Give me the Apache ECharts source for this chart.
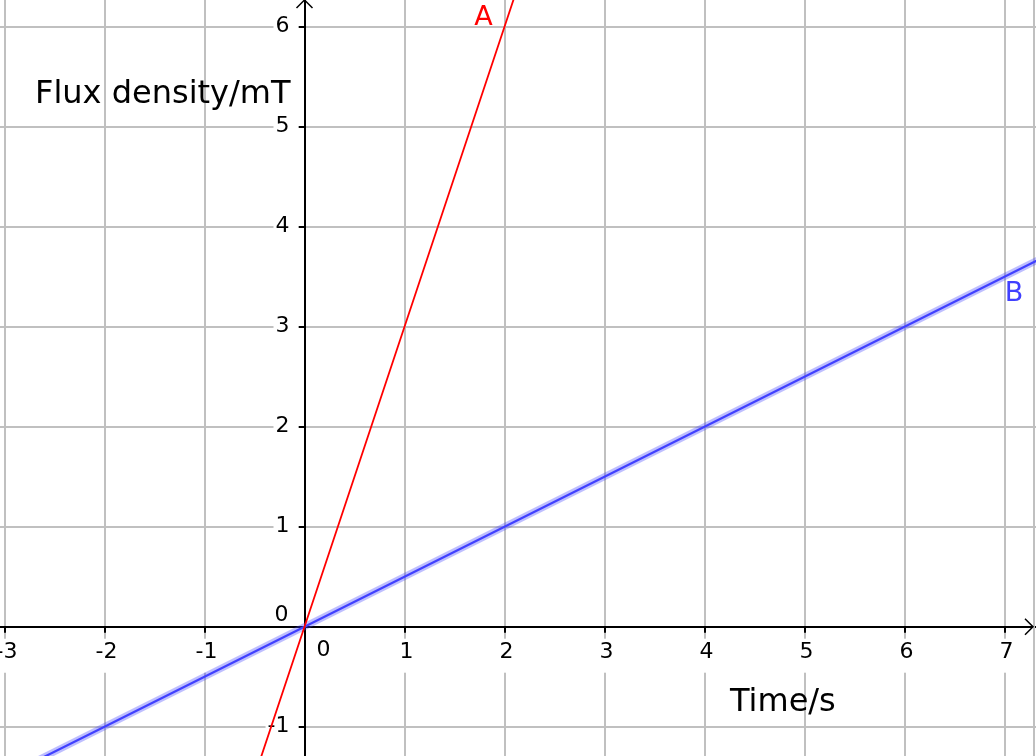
<!DOCTYPE html>
<html>
<head>
<meta charset="utf-8">
<script src="https://cdn.jsdelivr.net/npm/echarts@6/dist/echarts.min.js"></script>
<style>
html,body{margin:0;padding:0;background:#fff;}
#c{width:1036px;height:756px;}
</style>
</head>
<body>
<div id="c"></div>
<script>
// ---- data ----
const lineA_x = [-0.5, 0, 1, 2, 2.2];
const lineA_y = [-1.5, 0, 3, 6, 6.6];
const lineB_x = [-3, -2, -1, 0, 1, 2, 3, 4, 5, 6, 7, 7.5];
const lineB_y = [-1.5, -1, -0.5, 0, 0.5, 1, 1.5, 2, 2.5, 3, 3.5, 3.75];
const seriesNames = ['A', 'B'];
const xTitle = 'Time/s';
const yTitle = 'Flux density/mT';
const xAxisRange = [-4, 8];
const yAxisRange = [-2, 7];
const tickStep = 1;

const FONT = '"DejaVu Sans", "Liberation Sans", sans-serif';
const toPairs = (xs, ys) => xs.map((x, i) => [x, ys[i]]);

const chart = echarts.init(document.getElementById('c'), null, {renderer: 'canvas'});

// grid extends past the canvas so that the visible window is x∈[-3.05,7.3], y∈[-1.3,6.27]
const G = {left: -95.5, right: -68.5, top: -73.3, bottom: -70.7};

const option = {
  animation: false,
  backgroundColor: '#ffffff',
  grid: Object.assign({containLabel: false, outerBoundsMode: 'none'}, G),
  xAxis: {
    type: 'value', min: xAxisRange[0], max: xAxisRange[1], interval: tickStep,
    position: 'bottom', offset: -200,
    axisLine: {onZero: false, lineStyle: {color: '#000', width: 2}},
    axisTick: {show: true, inside: false, length: 6, lineStyle: {color: '#000', width: 2}},
    axisLabel: {
      margin: 18, showMinLabel: true, showMaxLabel: true,
      formatter: v => v === 0 ? '' : '{t|' + v + '}',
      rich: {t: {fontFamily: FONT, fontSize: 22, lineHeight: 22, color: '#000',
                 backgroundColor: '#fff', padding: [3, 3, 9, 7]}}
    },
    splitLine: {show: true, lineStyle: {color: '#c0c0c0', width: 2}}
  },
  yAxis: {
    type: 'value', min: yAxisRange[0], max: yAxisRange[1], interval: tickStep,
    position: 'left', offset: -400,
    axisLine: {onZero: false, lineStyle: {color: '#000', width: 2}},
    axisTick: {show: true, inside: false, length: 6, lineStyle: {color: '#000', width: 2}},
    axisLabel: {
      margin: 6, showMinLabel: true, showMaxLabel: true,
      formatter: v => v === 0 ? '' : '{t|' + v + '}',
      rich: {t: {fontFamily: FONT, fontSize: 22, lineHeight: 22, color: '#000',
                 backgroundColor: '#fff', padding: [3, 9, 3, 2]}}
    },
    splitLine: {show: true, lineStyle: {color: '#c0c0c0', width: 2}}
  },
  series: [
    {
      name: seriesNames[1] + '-glow', type: 'line', data: toPairs(lineB_x, lineB_y),
      showSymbol: false, clip: true, silent: true,
      lineStyle: {color: 'rgba(70,70,255,0.35)', width: 7}
    },
    {
      name: seriesNames[1], type: 'line', data: toPairs(lineB_x, lineB_y),
      showSymbol: false, clip: true,
      lineStyle: {color: '#4040ff', width: 2.2}
    },
    {
      name: seriesNames[0], type: 'line', data: toPairs(lineA_x, lineA_y),
      showSymbol: false, clip: true,
      lineStyle: {color: '#ff0000', width: 1.8}
    }
  ]
};
chart.setOption(option);

// ---- decorations: arrows, zero labels, titles, line names ----
const o = chart.convertToPixel({gridIndex: 0}, [0, 0]);
const ox = o[0], oy = o[1];
const W = 1036;

chart.setOption({
  graphic: [
    {type: 'line', z: 1, shape: {x1: 1034, y1: 0, x2: 1034, y2: 756},
     style: {stroke: '#c0c0c0', lineWidth: 2}},
    {type: 'polyline', z: 100, shape: {points: [[W - 11, oy - 8], [W - 3, oy], [W - 11, oy + 8]]},
     style: {stroke: '#000', lineWidth: 1.5, fill: null}},
    {type: 'polyline', z: 100, shape: {points: [[ox - 8, 8], [ox, 0], [ox + 8, 8]]},
     style: {stroke: '#000', lineWidth: 1.5, fill: null}},
    {type: 'text', z: 100, style: {text: '0', x: ox - 16, y: oy - 11, align: 'right', verticalAlign: 'middle',
     font: '22px ' + FONT, fill: '#000'}},
    {type: 'text', z: 100, style: {text: '0', x: ox + 19, y: oy + 24, align: 'center', verticalAlign: 'middle',
     font: '22px ' + FONT, fill: '#000'}},
    {type: 'text', z: 100, style: {text: yTitle, x: 35, y: 95, align: 'left', verticalAlign: 'middle',
     font: '32px ' + FONT, fill: '#000'}},
    {type: 'text', z: 100, style: {text: xTitle, x: 730, y: 703, align: 'left', verticalAlign: 'middle',
     font: '32px ' + FONT, fill: '#000'}},
    {type: 'text', z: 100, style: {text: seriesNames[0], x: 483.5, y: 18, align: 'center', verticalAlign: 'middle',
     font: '27px ' + FONT, fill: '#ff0000'}},
    {type: 'text', z: 100, style: {text: seriesNames[1], x: 1014, y: 294, align: 'center', verticalAlign: 'middle',
     font: '27px ' + FONT, fill: '#4040ff'}}
  ]
});
</script>
</body>
</html>
